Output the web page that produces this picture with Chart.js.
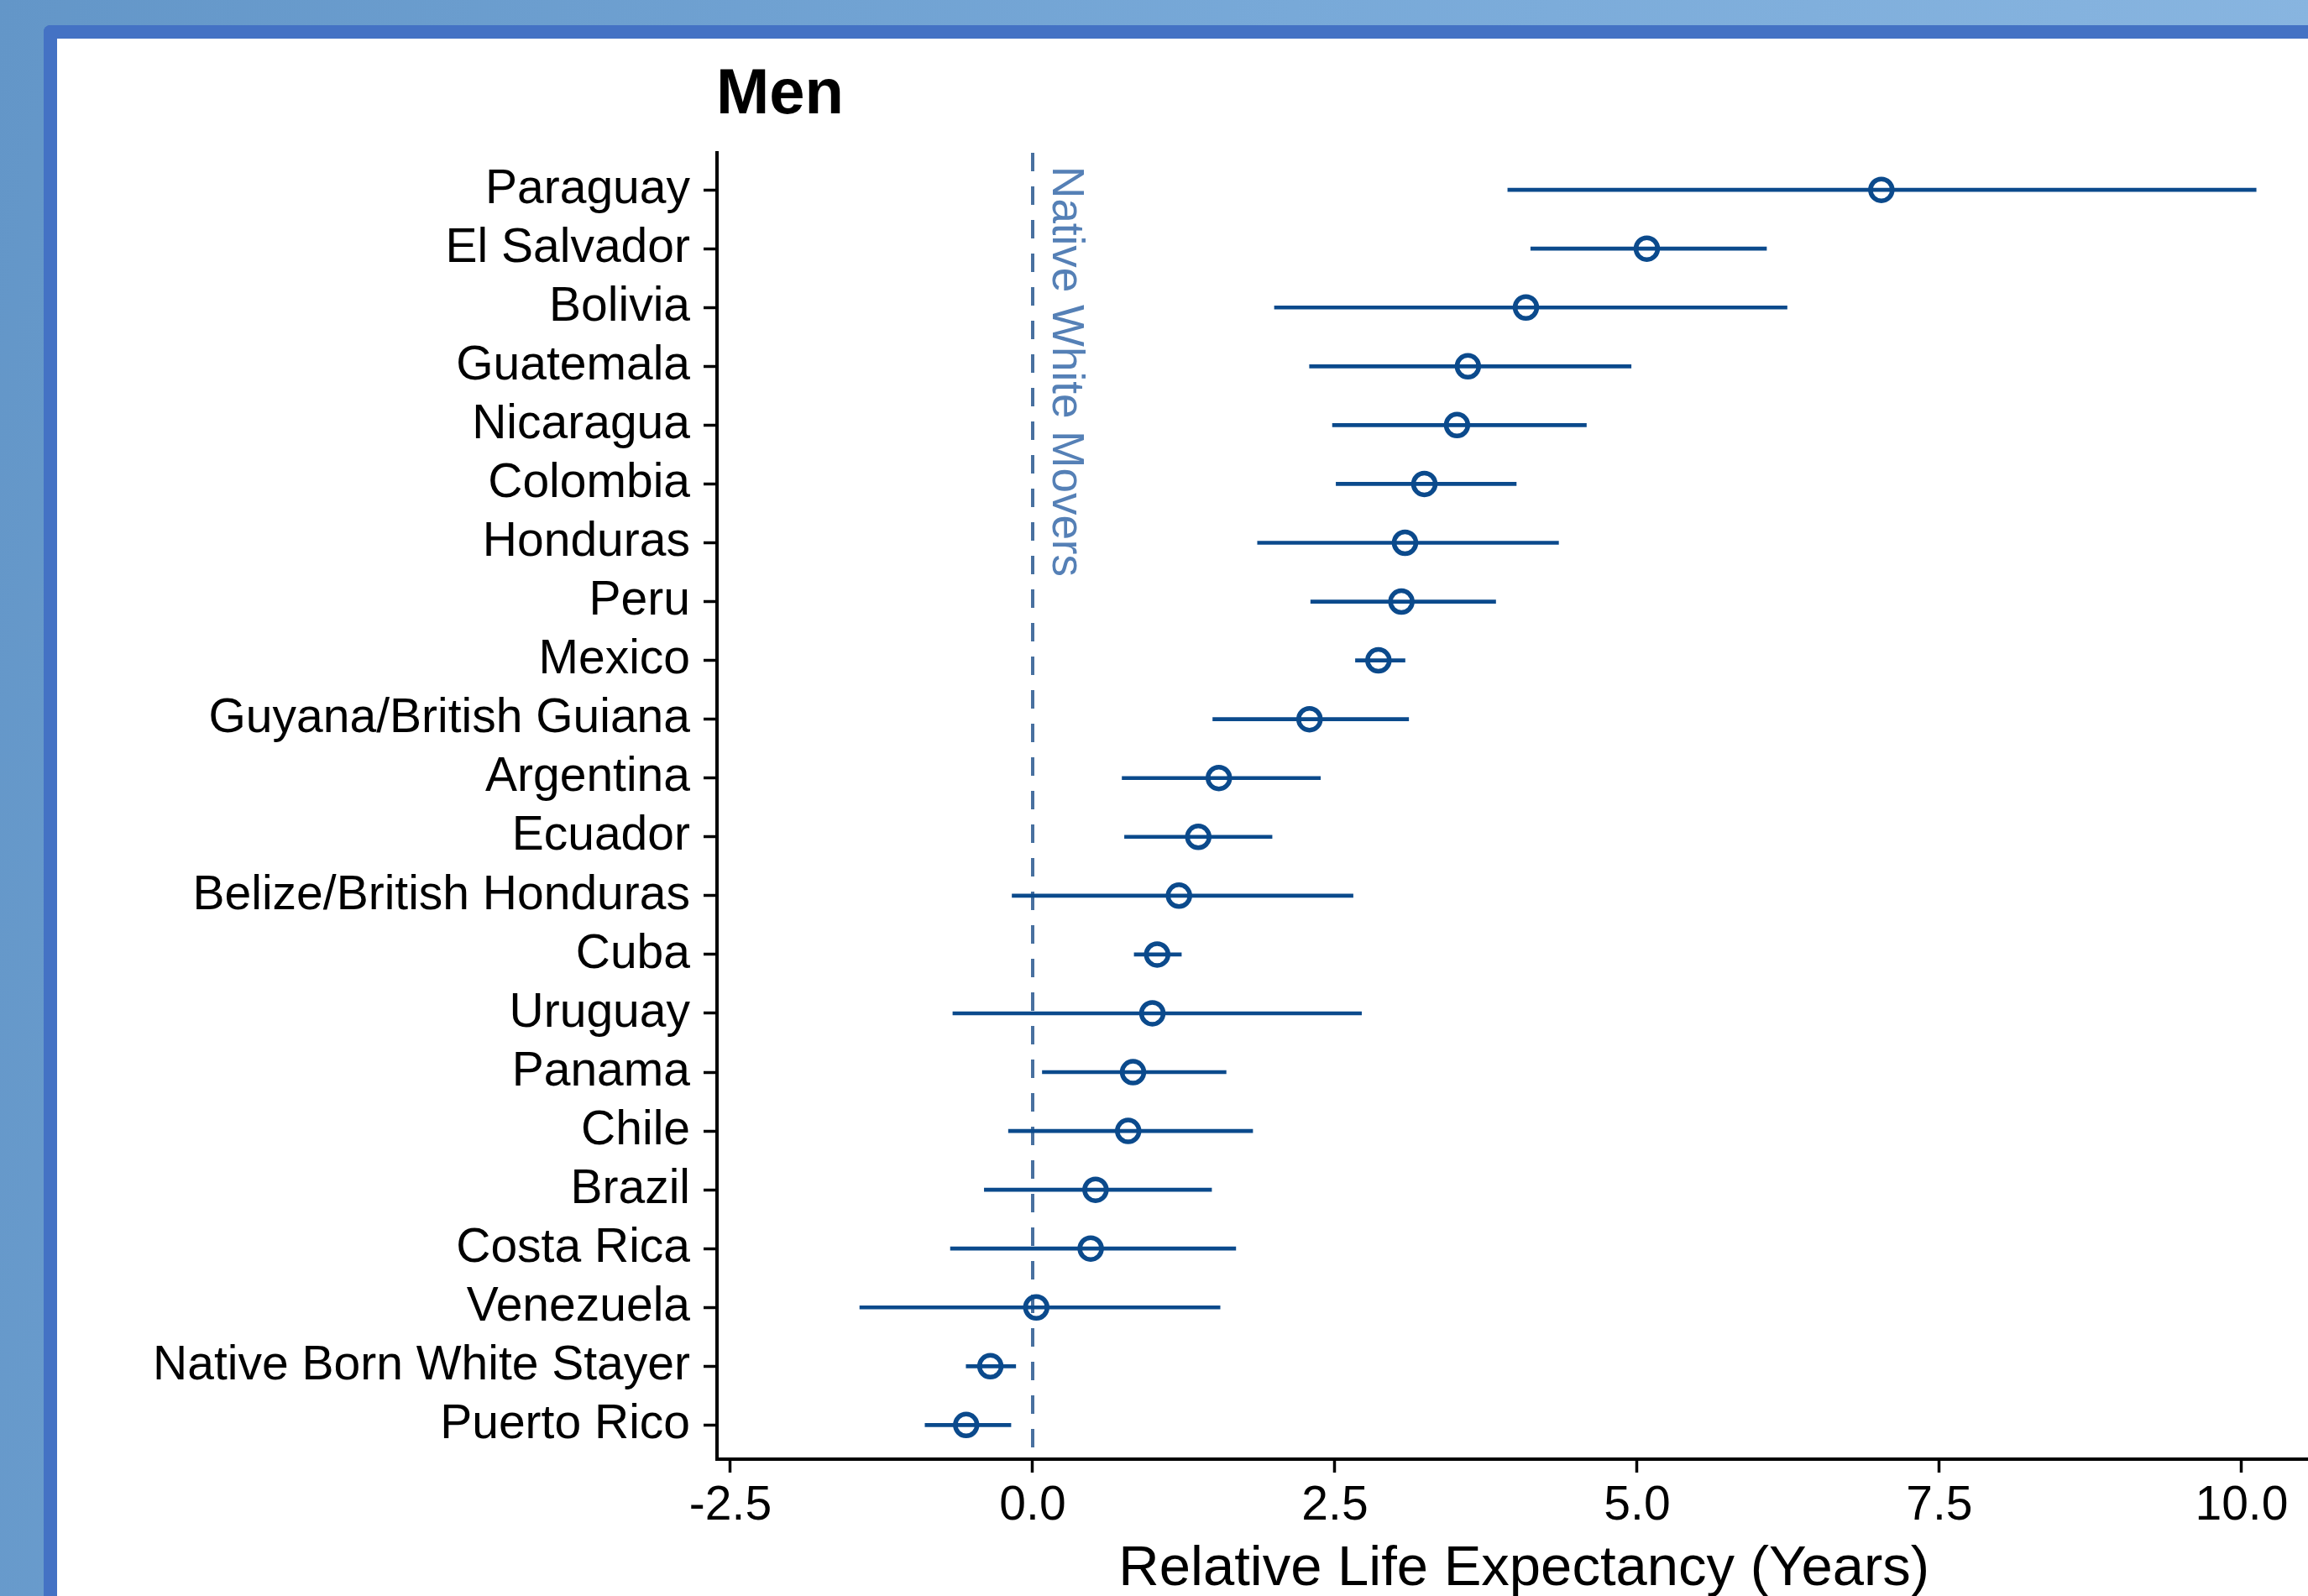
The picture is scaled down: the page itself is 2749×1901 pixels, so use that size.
<!DOCTYPE html>
<html>
<head>
<meta charset="utf-8">
<script src="https://cdn.jsdelivr.net/npm/chart.js@4.4.0/dist/chart.umd.min.js"></script>
<style>
  html, body { margin: 0; padding: 0; width: 2749px; height: 1901px; overflow: hidden; }
  body { position: relative; background: linear-gradient(100deg, #6396c8 0%, #78a9d8 50%, #8cb8e2 100%); }
  #frame { position: absolute; left: 52px; top: 30px; width: 2760px; height: 1900px; background: #fff;
           border-left: 16px solid #4472c4; border-top: 16px solid #4472c4; border-top-left-radius: 8px; }
  #wrap { position: absolute; left: 0; top: 0; width: 2795px; height: 1901px; }
</style>
</head>
<body>
<div id="frame"></div>
<div id="wrap"><canvas id="chart"></canvas></div>
<script>
// Data
const countries = ["Paraguay", "El Salvador", "Bolivia", "Guatemala", "Nicaragua", "Colombia", "Honduras",
    "Peru", "Mexico", "Guyana/British Guiana", "Argentina", "Ecuador", "Belize/British Honduras", "Cuba",
    "Uruguay", "Panama", "Chile", "Brazil", "Costa Rica", "Venezuela", "Native Born White Stayer", "Puerto Rico"];
const estimate = [7.02, 5.08, 4.08, 3.60, 3.51, 3.24, 3.08, 3.05, 2.86, 2.29, 1.54, 1.37, 1.21, 1.03, 0.99,
    0.83, 0.79, 0.52, 0.48, 0.03, -0.35, -0.55];
const lower = [3.93, 4.12, 2.00, 2.29, 2.48, 2.51, 1.86, 2.30, 2.67, 1.49, 0.74, 0.76, -0.17, 0.84, -0.66,
    0.08, -0.20, -0.40, -0.68, -1.43, -0.55, -0.89];
const upper = [10.12, 6.07, 6.24, 4.95, 4.58, 4.00, 4.35, 3.83, 3.08, 3.11, 2.38, 1.98, 2.65, 1.23, 2.72,
    1.60, 1.82, 1.48, 1.68, 1.55, -0.14, -0.18];
const xTicks = [-2.5, 0, 2.5, 5, 7.5, 10];

const blue = "#0b4a8c";
Chart.defaults.font.family = "'Liberation Sans', Arial, sans-serif";

// Title and the rotated reference label
const extras = {
    id: "extras",
    afterDraw(chart) {
        const ctx = chart.ctx;
        const x = chart.scales.x;
        const y = chart.scales.y;
        ctx.save();
        ctx.fillStyle = "#000";
        ctx.font = "bold 76px 'Liberation Sans'";
        ctx.textBaseline = "alphabetic";
        ctx.fillText("Men", chart.chartArea.left - 1, 135);
        ctx.fillStyle = "#5580b6";
        ctx.font = "53px 'Liberation Sans'";
        ctx.translate(x.getPixelForValue(0) + 24, y.getPixelForValue(-0.4));
        ctx.rotate(Math.PI / 2);
        ctx.fillText("Native White Movers", 0, 0);
        ctx.restore();
    },
};

new Chart(document.getElementById("chart"), {
    type: "scatter",
    data: {
        datasets: [
            {
                type: "line",
                data: [{ x: 0, y: -0.63 }, { x: 0, y: 21.58 }],
                borderColor: "#48709f",
                borderWidth: 4,
                borderDash: [22, 18],
                pointRadius: 0,
                order: 3,
            },
            {
                type: "bar",
                indexAxis: "y",
                data: countries.map((c, i) => ({ x: [lower[i], upper[i]], y: i })),
                backgroundColor: blue,
                barThickness: 4,
                order: 2,
            },
            {
                type: "scatter",
                data: countries.map((c, i) => ({ x: estimate[i], y: i })),
                pointRadius: 13,
                pointHoverRadius: 13,
                borderWidth: 5.5,
                borderColor: blue,
                backgroundColor: "rgba(0,0,0,0)",
                order: 1,
            },
        ],
    },
    options: {
        responsive: true,
        maintainAspectRatio: false,
        animation: false,
        layout: { padding: { top: 182, left: 0, right: 0, bottom: 0 } },
        plugins: { legend: { display: false }, tooltip: { enabled: false } },
        scales: {
            x: {
                type: "linear",
                min: -2.611,
                max: 10.74,
                afterBuildTicks: (s) => { s.ticks = xTicks.map((v) => ({ value: v })); },
                afterFit: (s) => { s.height = 163; },
                grid: { drawOnChartArea: false, tickLength: 16, tickWidth: 3.5, tickColor: "#000" },
                border: { color: "#000", width: 4 },
                ticks: {
                    color: "#000",
                    font: { size: 57 },
                    padding: 6,
                    maxRotation: 0,
                    callback: (v) => v.toFixed(1),
                },
                title: {
                    display: true,
                    text: "Relative Life Expectancy (Years)",
                    color: "#000",
                    font: { size: 67 },
                    padding: { top: 0, bottom: -9 },
                },
            },
            y: {
                type: "linear",
                reverse: true,
                offset: false,
                min: -0.63,
                max: 21.58,
                afterBuildTicks: (s) => { s.ticks = countries.map((c, i) => ({ value: i })); },
                afterFit: (s) => { s.width = 854; },
                grid: { offset: false, drawOnChartArea: false, tickLength: 16, tickWidth: 3.5, tickColor: "#000" },
                border: { color: "#000", width: 4 },
                ticks: {
                    color: "#000",
                    font: { size: 57 },
                    padding: 16,
                    autoSkip: false,
                    callback: (v, i) => countries[i],
                },
            },
        },
    },
    plugins: [extras],
});
</script>
</body>
</html>
